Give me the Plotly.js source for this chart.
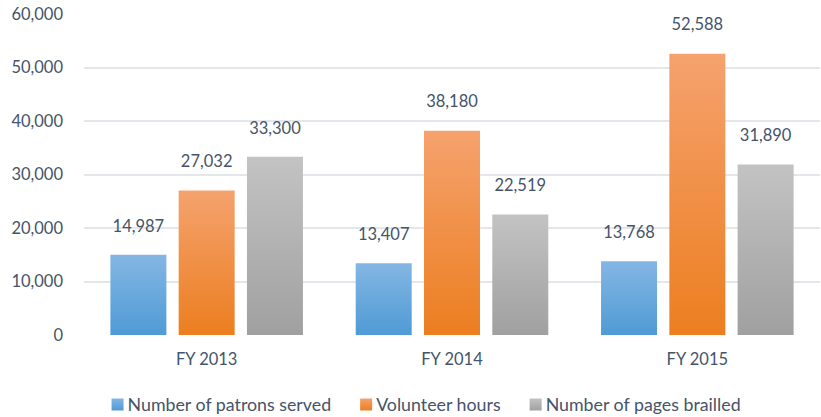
<!DOCTYPE html>
<html>
<head>
<meta charset="utf-8">
<script src="https://cdn.plot.ly/plotly-3.0.1.min.js"></script>
<style>html,body{margin:0;padding:0;background:#fff;}#chart{width:821px;height:417px;}</style>
</head>
<body>
<div id="chart"></div>
<script>
const categories = ["FY 2013", "FY 2014", "FY 2015"];
const seriesNames = ["Number of patrons served", "Volunteer hours", "Number of pages brailled"];
const patronsServed = [14987, 13407, 13768];
const volunteerHours = [27032, 38180, 52588];
const pagesBrailled = [33300, 22519, 31890];
const yTickVals = [0, 10000, 20000, 30000, 40000, 50000, 60000];

const seriesValues = [patronsServed, volunteerHours, pagesBrailled];
const baseColors = ["#6aa8de", "#f28e3c", "#b2b2b2"];
const gradStops = [["#84b6e4", "#4f9bd5"], ["#f5a26e", "#ec7e20"], ["#c3c3c3", "#a0a0a0"]];
const textColor = "#44546a";
const fontFamily = "Lato, 'Open Sans', sans-serif";

const traces = [];
seriesValues.forEach((vals, i) => {
  traces.push({
    type: "bar",
    name: seriesNames[i],
    x: categories,
    y: vals,
    offsetgroup: String(i),
    marker: {color: baseColors[i], line: {width: 0}},
    hoverinfo: "skip"
  });
});
seriesValues.forEach((vals, i) => {
  traces.push({
    type: "scatter",
    mode: "markers+text",
    x: categories,
    y: vals,
    offsetgroup: String(i),
    text: vals.map(v => v.toLocaleString("en-US")),
    textposition: "top center",
    textfont: {family: fontFamily, size: 16.5, color: textColor},
    marker: {size: 29, color: "rgba(0,0,0,0)"},
    showlegend: false,
    hoverinfo: "skip",
    cliponaxis: false
  });
});

const layout = {
  width: 821, height: 417,
  margin: {l: 84, r: 1, t: 14, b: 82},
  paper_bgcolor: "#fff", plot_bgcolor: "#fff",
  font: {family: fontFamily, size: 16, color: textColor},
  barmode: "group",
  scattermode: "group",
  bargap: 0.165,
  scattergap: 0.165,
  bargroupgap: 0.18,
  showlegend: true,
  legend: {
    orientation: "h",
    xref: "container", x: 0.508, xanchor: "center",
    yref: "container", y: 0.029, yanchor: "middle",
    font: {family: fontFamily, size: 17.8, color: textColor},
    itemwidth: 30, traceorder: "normal"
  },
  xaxis: {
    type: "category",
    showgrid: false, zeroline: false, showline: false,
    ticks: "", ticklabelstandoff: 12,
    tickfont: {family: fontFamily, size: 16.5, color: textColor}
  },
  yaxis: {
    range: [0, 60000],
    tickvals: yTickVals,
    tickformat: ",d",
    showgrid: true, gridcolor: "#e3e6eb", gridwidth: 2,
    zeroline: false, showline: false, ticks: "",
    ticklabelstandoff: 20,
    tickfont: {family: fontFamily, size: 16.5, color: textColor}
  }
};

Plotly.newPlot("chart", traces, layout, {displayModeBar: false, staticPlot: true}).then(gd => {
  const svgNS = "http://www.w3.org/2000/svg";
  const svg = gd.querySelector("svg.main-svg");
  let defs = svg.querySelector("defs");
  if (!defs) { defs = document.createElementNS(svgNS, "defs"); svg.insertBefore(defs, svg.firstChild); }
  gradStops.forEach((stops, i) => {
    const g = document.createElementNS(svgNS, "linearGradient");
    g.setAttribute("id", "barGrad" + i);
    g.setAttribute("x1", "0"); g.setAttribute("y1", "0");
    g.setAttribute("x2", "0"); g.setAttribute("y2", "1");
    stops.forEach((c, k) => {
      const s = document.createElementNS(svgNS, "stop");
      s.setAttribute("offset", k === 0 ? "0" : "1");
      s.setAttribute("stop-color", c);
      g.appendChild(s);
    });
    defs.appendChild(g);
  });
  const barTraces = gd.querySelectorAll(".barlayer .trace");
  barTraces.forEach((t, i) => {
    t.querySelectorAll("path").forEach(p => { p.style.fill = "url(#barGrad" + i + ")"; });
  });
  const legendItems = gd.querySelectorAll(".legend .traces");
  legendItems.forEach((t, i) => {
    const pts = t.querySelector(".legendpoints");
    if (pts) pts.setAttribute("transform", "translate(10,0)");
    t.querySelectorAll(".legendpoints path").forEach(p => { p.style.fill = "url(#barGrad" + i + ")"; p.style.stroke = "none"; });
  });
});
</script>
</body>
</html>
